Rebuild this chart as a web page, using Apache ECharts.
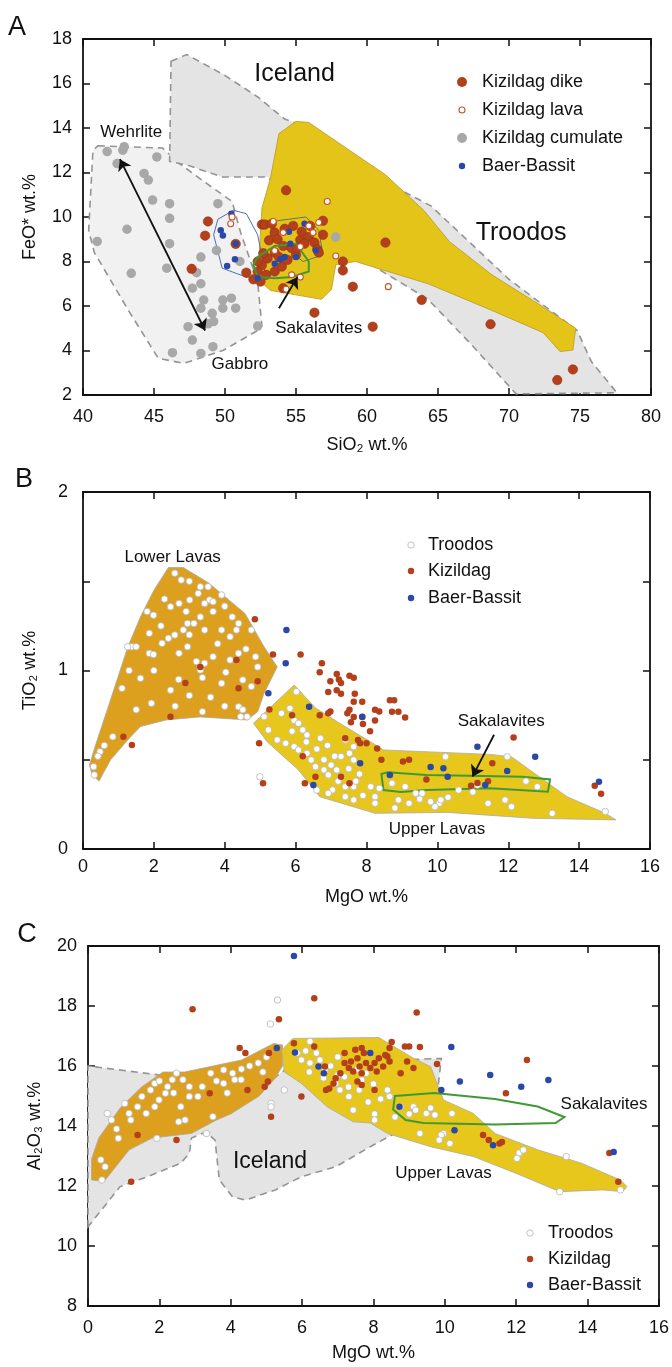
<!DOCTYPE html>
<html>
<head>
<meta charset="utf-8">
<style>
  html, body { margin: 0; padding: 0; background: #fff; }
  #main { width: 672px; height: 1367px; }
</style>
</head>
<body>
<div id="main"></div>
<script src="https://cdn.jsdelivr.net/npm/echarts@6/dist/echarts.min.js"></script>
<script type="text/javascript">
// ---------- panel A : FeO* vs SiO2 ----------
var aIceland = [[46.2,17.0],[47.3,17.3],[49.9,16.4],[52.3,15.4],[54.2,14.4],[56,14],[60,12],[64.5,10.5],[70,7.2],[74.8,4.9],[75.8,3.5],[77.6,2.1],[70.5,2.05],[67.3,4.3],[64.3,6.3],[60.7,7.7],[57,9.5],[53,11.8],[49.8,11.8],[47.5,12.3],[46.1,12.5]];
var aWehrlite = [[41.05,13.2],[45.6,13.1],[46.8,12.4],[48.5,11.6],[50.5,10.7],[51.1,9.3],[52.3,7.1],[52.6,5.1],[52.3,4.9],[49.85,4.0],[47.1,3.42],[45.3,3.65],[43.2,5.8],[40.8,8.4],[40.4,9.4],[40.7,13.0]];
var aTroodos = [[55.0,14.3],[53.8,13.75],[53.2,11.75],[52.6,10.4],[52.3,7.2],[53.2,6.7],[56.8,6.3],[57.5,6.75],[57.8,7.85],[59.2,8.0],[60.7,7.7],[64.3,7.0],[68.8,5.8],[72.4,4.8],[73.6,3.95],[74.5,4.02],[74.7,5.0],[71.8,6.2],[68.8,7.4],[65.8,8.9],[64.0,10.3],[61.3,11.9],[58.3,13.2],[55.9,14.25]];
var aBaerField = [[49.5,9.9],[50.6,10.3],[51.5,10.15],[52.3,9.2],[52.9,7.25],[51.5,7.3],[49.8,7.7],[49.2,9.2]];
var aKizField = [[53.3,9.8],[55.7,10.0],[56.6,9.4],[56.9,8.3],[55.5,8.0],[53.2,9.1]];
var aSakalavites = [[52.0,7.85],[52.3,8.2],[53.5,8.7],[55.0,8.8],[55.9,8.0],[55.9,7.55],[54.7,7.3],[53.5,7.25],[52.3,7.3]];
var aDike = [[54.3,11.2],[48.8,9.8],[56.9,9.83],[48.6,9.16],[50.75,8.79],[47.65,7.67],[56.9,9.2],[58.3,8.0],[58.3,7.6],[59.0,6.87],[61.3,8.85],[56.3,5.7],[60.4,5.07],[63.85,6.27],[68.7,5.18],[73.4,2.67],[74.5,3.15],
  [52.6,9.66],[52.8,9.66],[53.5,9.3],[53.1,8.95],[53.7,9.0],[54.1,8.7],[53.5,8.4],[53.0,8.14],[52.6,7.84],[52.3,7.55],[52.9,7.4],[53.5,7.55],[54.0,7.77],[54.4,8.07],[55.0,8.3],[55.3,8.97],[55.4,9.34],[55.9,9.1],[56.3,8.85],[56.5,8.55],[56.6,8.4],[55.6,8.8],[54.7,8.6],[52.0,7.2],[51.5,7.5],[54.1,6.8],[54.2,9.47],[52.3,8.0],[52.7,8.37],[55.1,8.6],[53.3,9.7],[54.8,9.6],[56.0,9.6],[53.8,8.2],[52.5,7.1]];
var aLava = [[57.2,10.7],[50.5,10.0],[50.4,9.7],[53.4,9.8],[54.1,9.3],[55.9,9.6],[56.2,9.3],[57.8,8.25],[55.3,7.3],[54.7,7.4],[54.3,6.75],[61.5,6.87],[53.5,8.48],[55.3,8.66],[56.6,9.75]];
var aCumulate = [[41.7,12.94],[42.8,13.0],[42.9,13.16],[42.4,12.4],[45.2,12.7],[44.3,11.96],[44.6,11.66],[44.9,10.76],[46.1,10.6],[49.5,10.6],[46.1,9.94],[43.1,9.45],[41.0,8.9],[46.1,8.8],[48.3,8.2],[49.4,8.5],[51.05,8.0],[43.4,7.47],[45.9,7.7],[48.3,7.0],[47.7,6.8],[48.5,6.27],[48.3,5.9],[49.1,5.67],[49.85,5.9],[49.85,6.27],[50.45,6.35],[50.75,5.9],[47.4,5.07],[47.7,4.47],[49.2,5.3],[48.3,3.87],[49.15,4.17],[46.3,3.9],[52.3,5.1],[57.8,9.1],[48.0,7.5],[48.8,5.2]];
var aBaer = [[50.45,10.15],[49.7,9.4],[49.85,9.17],[50.75,8.8],[50.7,8.1],[50.15,7.8],[52.3,7.25],[53.5,7.9],[54.2,8.2],[54.5,9.34],[55.6,9.7],[56.4,8.5],[53.9,8.1],[55.0,8.2],[54.6,8.8]];
var aArrows = [[[42.6,12.6],[48.6,4.9]]];
var aSakArrow = [[[53.8,5.9],[55.1,7.3]]];
var aNotes = [[54.9,16.4,'Iceland',25],[70.85,9.28,'Troodos',25],[43.4,13.82,'Wehrlite',17],[51.05,3.39,'Gabbro',17],[56.6,5.0,'Sakalavites',17]];

// ---------- panel B : TiO2 vs MgO ----------
var bLower = [[0.25,0.42],[0.45,0.38],[0.78,0.5],[1.26,0.61],[1.62,0.686],[2.35,0.723],[3.31,0.74],[4.63,0.723],[4.93,0.769],[5.11,0.872],[5.48,1.02],[5.11,1.133],[4.57,1.32],[3.55,1.49],[2.83,1.577],[2.41,1.577],[2.0,1.45],[1.62,1.30],[1.26,1.13],[0.8,0.85],[0.35,0.58],[0.18,0.47]];
var bUpper = [[5.96,0.919],[4.81,0.704],[5.2,0.6],[6.08,0.443],[6.68,0.293],[8.24,0.2],[10.29,0.205],[12.7,0.172],[15.04,0.163],[14.74,0.2],[13.66,0.293],[12.09,0.517],[11.49,0.53],[8.48,0.555],[8.12,0.6],[7.28,0.7],[6.56,0.79]];
var bSakalavites = [[8.42,0.42],[8.6,0.43],[9.69,0.415],[10.89,0.41],[12.4,0.405],[13.18,0.39],[13.12,0.321],[11.49,0.34],[9.69,0.33],[8.97,0.32],[8.48,0.33]];
var bTroodos = [[2.59,1.545],[2.77,1.507],[3.31,1.469],[3.53,1.469],[3.25,1.432],[3.91,1.423],[3.57,1.395],[3.67,1.385],[3.43,1.376],[1.81,1.33],[1.99,1.31],[2.47,1.357],[2.71,1.376],[3.01,1.395],[2.91,1.33],[3.31,1.30],[3.67,1.33],[4.21,1.30],[4.39,1.264],[1.87,1.208],[2.41,1.18],[2.59,1.199],[2.83,1.227],[2.95,1.264],[3.13,1.264],[3.43,1.227],[3.91,1.227],[4.15,1.189],[4.33,1.227],[4.75,1.227],[1.38,1.133],
  [1.26,1.133],[1.5,1.133],[1.87,1.096],[1.99,1.09],[1.62,0.956],[2.47,0.89],[2.23,1.152],[2.71,1.096],[2.95,1.133],[3.31,1.003],[3.43,1.04],[3.67,1.077],[3.37,0.96],[3.91,0.928],[4.03,0.99],[4.15,1.059],[4.39,1.096],[4.87,1.077],[4.93,1.02],[4.75,0.91],[4.51,0.947],[3.37,0.769],[1.93,0.816],[0.84,0.629],[0.48,0.545],[0.42,0.52],[0.30,0.461],[0.32,0.415],[4.39,0.797],[4.51,0.78],[4.63,0.741],[4.45,0.741],[4.99,0.405],
  [0.6,0.58],[1.1,0.9],[1.3,1.0],[2.2,1.25],[2.0,1.0],[2.7,0.95],[3.0,0.86],[3.6,0.85],[4.0,0.8],[2.6,0.8],[1.5,0.78],[3.8,1.15],[4.6,1.12],[3.0,1.2],[2.3,1.4],[3.0,1.5],[4.0,1.36],[3.2,1.05],
  [5.11,0.741],[5.23,0.667],[5.84,0.788],[6.02,0.881],[5.6,0.76],[5.96,0.72],[6.08,0.704],[6.2,0.667],[6.32,0.639],[5.48,0.611],[5.72,0.592],[5.96,0.573],[6.08,0.555],[6.32,0.536],[6.44,0.499],[6.56,0.461],[6.8,0.443],[6.92,0.415],[7.16,0.443],[6.8,0.5],[7.28,0.518],[7.4,0.611],[7.64,0.573],[7.52,0.536],[7.64,0.499],[7.28,0.405],[7.04,0.331],[6.92,0.312],[7.4,0.293],[7.64,0.275],[7.64,0.349],[7.4,0.349],[8.12,0.349],[8.24,0.293],[8.36,0.34],[8.24,0.256],[8.9,0.275],[9.2,0.256],[9.39,0.312],[9.57,0.312],[9.81,0.265],[10.05,0.256],[10.1,0.275],[9.93,0.237],[10.23,0.517],[11.97,0.517],[11.43,0.256],[11.91,0.275],[12.09,0.237],[13.24,0.2],[14.74,0.21],[9.09,0.349],[8.72,0.368],[11.13,0.358],[12.82,0.349],
  [6.6,0.56],[6.9,0.58],[7.1,0.52],[7.0,0.47],[7.5,0.45],[7.8,0.42],[7.7,0.38],[7.9,0.3],[6.6,0.33],[6.3,0.6],[5.9,0.66],[6.7,0.62],[7.2,0.38],[8.8,0.23],[9.5,0.28],[10.3,0.29],[10.6,0.33],[11.0,0.32],[12.5,0.38]];
var bKizildag = [[4.85,1.287],[5.36,1.09],[6.14,1.09],[6.74,1.04],[6.68,0.99],[7.16,0.98],[7.22,0.95],[7.52,0.97],[7.64,0.96],[6.98,0.94],[7.28,0.93],[6.92,0.88],[7.16,0.89],[7.28,0.87],[7.67,0.87],[7.64,0.825],[7.88,0.825],[7.52,0.78],[7.46,0.76],[7.64,0.74],[7.88,0.74],[8.24,0.78],[8.36,0.77],[8.24,0.72],[8.66,0.834],[8.78,0.834],[8.72,0.769],[8.9,0.769],[9.09,0.737],[6.92,0.76],[6.98,0.77],[7.4,0.62],[7.76,0.61],[7.82,0.592],[8.0,0.592],[8.3,0.563],[8.42,0.5],[9.03,0.49],[9.2,0.5],[9.69,0.39],[10.95,0.355],[11.13,0.37],[11.43,0.38],[11.55,0.48],[12.15,0.625],[14.44,0.355],[14.62,0.31],[6.2,0.52],[6.56,0.405],[6.26,0.368],[7.28,0.405],[7.52,0.368],[4.97,0.592],[5.08,0.368],[5.26,0.782],[4.33,1.059],[4.39,0.9],[4.93,0.94],[3.31,1.02],[2.89,0.93],[1.14,0.629],[1.38,0.582],[2.47,0.741],[5.9,0.75],[6.68,0.75],[7.56,0.71],[8.1,0.66],[7.9,0.7]];
var bBaer = [[5.74,1.227],[5.72,1.04],[5.23,0.872],[6.38,0.797],[7.88,0.741],[7.82,0.48],[8.66,0.415],[9.81,0.46],[10.17,0.452],[10.29,0.405],[11.13,0.573],[11.35,0.358],[11.97,0.437],[12.76,0.517],[14.56,0.377],[6.5,0.358]];
var bSakArrow = [[[11.6,0.64],[10.99,0.405]]];
var bNotes = [[2.53,1.636,'Lower Lavas',17],[9.99,0.112,'Upper Lavas',17],[11.8,0.714,'Sakalavites',17]];

// ---------- panel C : Al2O3 vs MgO ----------
var cIceland = [[0,10.64],[0,16.0],[2.0,15.7],[3.0,15.2],[4.0,14.7],[5.0,15.4],[5.6,15.95],[6.5,15.9],[8,16.0],[8.6,16.2],[9.9,16.25],[9.8,15.2],[9.3,14.6],[8.9,14.1],[8.76,13.86],[7.91,13.31],[6.94,12.64],[5.98,12.31],[5.25,11.87],[4.41,11.53],[4.05,11.64],[3.68,12.2],[3.56,13.53],[3.3,13.8],[2.9,13.6],[2.84,13.09],[2.6,12.76],[1.75,12.35],[0.9,11.98]];
var cLower = [[0.1,12.2],[0.1,12.9],[0.3,13.6],[0.9,14.6],[1.5,15.3],[2.1,15.8],[2.7,15.8],[3.5,16.0],[4.3,16.2],[5.2,16.75],[5.45,16.7],[5.45,16.0],[5.25,15.6],[4.8,15.0],[4.0,14.4],[3.6,14.2],[2.9,13.75],[1.8,13.6],[1.15,13.2],[0.45,12.15]];
var cUpper = [[5.43,16.53],[5.74,16.92],[8.15,16.95],[9.12,16.26],[9.6,15.98],[9.96,14.87],[10.8,14.42],[11.41,13.75],[12.62,13.2],[13.83,12.76],[14.92,12.2],[15.1,11.98],[14.98,11.81],[14.43,11.87],[13.22,11.81],[12.0,12.42],[10.8,12.98],[9.6,13.31],[8.39,13.75],[7.91,14.1],[7.43,14.14],[6.7,14.64],[5.98,15.42],[5.5,15.8]];
var cSakalavites = [[8.6,15.0],[9.7,15.1],[11.4,14.9],[12.6,14.65],[13.35,14.3],[13.1,14.1],[11.4,14.05],[9.4,14.1],[8.9,14.2],[8.55,14.55]];
var cTroodos = [[5.31,18.2],[5.11,17.4],[6.22,16.82],[6.4,16.43],[5.86,16.43],[5.98,16.2],[6.22,16.1],[6.64,15.87],[7.19,15.64],[6.94,15.42],[7.06,15.2],[7.31,14.98],[7.43,14.53],[7.85,14.8],[8.03,14.4],[8.39,15.2],[8.45,14.98],[8.76,14.64],[9.12,14.64],[9.18,14.53],[9.48,14.42],[9.72,14.37],[10.2,14.42],[7.55,15.9],[7.79,15.76],[7.67,15.53],[5.5,15.2],[5.13,14.75],[5.13,14.64],
  [4.53,16.0],[4.29,15.54],[4.77,16.1],[4.05,15.76],[4.11,15.54],[3.8,15.42],[3.44,15.76],[3.8,15.87],[3.2,15.31],[3.08,14.98],[2.84,15.31],[2.66,15.54],[2.48,15.76],[2.36,15.54],[2.23,15.31],[2.17,15.09],[1.99,14.87],[1.87,14.64],[1.63,14.42],[1.39,14.64],[1.15,14.42],[1.03,14.75],[1.75,15.2],[1.87,15.42],[1.51,14.98],[2.84,14.98],[2.6,14.64],[3.5,14.31],[2.72,14.2],[0.66,14.2],[0.54,14.42],
  [0.85,13.59],[0.36,12.87],[0.48,12.64],[0.39,12.2],[1.93,13.59],[2.54,14.14],[3.32,13.75],[13.22,11.81],[12.08,13.1],[12.2,13.2],[12.02,12.92],[13.4,12.98],[14.92,11.87],[9.96,13.75],[9.9,13.7],[10.14,13.42],[9.84,13.53],[9.3,13.75],[8.03,14.2],
  [6.1,16.5],[6.5,16.2],[6.8,16.0],[7.0,15.7],[7.3,15.3],[6.6,15.6],[7.0,16.3],[7.6,15.2],[8.0,15.4],[8.2,14.9],[8.6,14.3],[9.0,14.4],[9.6,14.6],[6.2,15.8],[4.3,15.9],[3.6,15.5],[2.0,15.5],[2.4,15.1],[3.9,15.1],[1.2,14.2],[0.8,13.9],[4.9,15.8],[5.0,16.3]];
var cKizildag = [[2.93,17.89],[5.35,17.56],[6.34,18.26],[9.21,17.78],[4.25,16.6],[4.41,16.43],[5.07,16.43],[5.04,15.48],[4.95,15.31],[4.47,15.2],[3.41,15.09],[5.77,16.76],[6.34,16.65],[5.98,14.98],[5.13,14.31],[6.67,15.2],[6.64,15.98],[7.19,16.43],[7.37,16.15],[7.49,16.54],[7.67,16.6],[7.73,16.43],[7.55,16.26],[7.19,16.1],[7.31,15.93],[7.07,15.76],[6.94,15.59],[6.88,15.42],[6.76,15.25],[7.43,15.82],[7.61,15.98],[7.79,16.1],[7.91,15.93],[8.03,16.1],[8.15,16.26],[8.33,16.37],[8.39,16.32],[8.45,16.15],[8.27,15.98],[8.09,15.82],[7.55,15.48],[7.67,15.76],[8.51,16.8],[8.45,16.6],[8.88,16.65],[9.0,16.65],[9.3,16.63],[8.76,15.76],[8.94,16.15],[9.12,15.93],[9.78,16.07],[8.03,15.2],[7.67,15.37],[11.71,15.09],[12.3,16.2],[1.21,12.14],[1.39,13.7],[2.48,13.53],[11.07,13.7],[11.23,13.53],[11.53,13.42],[11.6,13.47],[14.61,13.1],[14.86,12.14]];
var cBaer = [[5.77,19.67],[5.29,16.6],[5.8,16.45],[6.46,15.98],[6.61,15.76],[7.91,16.43],[10.18,16.63],[10.42,15.48],[11.27,15.7],[12.14,15.31],[12.9,15.53],[9.9,15.2],[8.73,14.64],[10.27,13.86],[11.35,13.36],[14.73,13.13]];
var cNotes = [[5.1,12.8,'Iceland',23],[9.96,12.43,'Upper Lavas',17],[14.46,14.73,'Sakalavites',17]];

// ---------- helpers ----------
var FONT = '"Liberation Sans", Arial, sans-serif';
var INK = '#111111';

function xPair(gi, min, max, step, name, margin, gap) {
  var base = {
    gridIndex: gi, type: 'value', min: min, max: max, interval: step,
    axisLine: { onZero: false, lineStyle: { color: INK, width: 1.8 } },
    axisTick: { inside: true, length: 7, lineStyle: { color: INK, width: 1.5 } },
    splitLine: { show: false }
  };
  var bottom = Object.assign({}, base, {
    position: 'bottom', name: name, nameLocation: 'middle', nameGap: gap,
    nameTextStyle: { fontSize: 18, fontFamily: FONT, color: INK },
    axisLabel: { fontSize: 18, fontFamily: FONT, color: INK, margin: margin }
  });
  var top = Object.assign({}, base, { position: 'top', axisLabel: { show: false } });
  return [bottom, top];
}
function yPair(gi, min, max, step, name, margin, gap, fmt) {
  var base = {
    gridIndex: gi, type: 'value', min: min, max: max, interval: step,
    axisLine: { onZero: false, lineStyle: { color: INK, width: 1.8 } },
    axisTick: { inside: true, length: 7, lineStyle: { color: INK, width: 1.5 } },
    splitLine: { show: false }
  };
  var left = Object.assign({}, base, {
    position: 'left', name: name, nameLocation: 'middle', nameGap: gap, nameRotate: 90,
    nameTextStyle: { fontSize: 18, fontFamily: FONT, color: INK },
    axisLabel: { fontSize: 18, fontFamily: FONT, color: INK, margin: margin, formatter: fmt }
  });
  var right = Object.assign({}, base, { position: 'right', axisLabel: { show: false } });
  return [left, right];
}

function polygon(pts, gi, style, z) {
  return {
    type: 'custom', xAxisIndex: gi * 2, yAxisIndex: gi * 2, silent: true, z: z,
    data: pts,
    renderItem: function (params, api) {
      if (params.dataIndex !== 0) return null;
      var p = pts.map(function (d) { return api.coord(d); });
      return { type: 'polygon', shape: { points: p }, style: style };
    }
  };
}
function dots(pts, gi, size, color, border, bw, z) {
  return {
    type: 'scatter', xAxisIndex: gi * 2, yAxisIndex: gi * 2, z: z,
    symbol: 'circle', symbolSize: size, data: pts, silent: true,
    itemStyle: { color: color, borderColor: border, borderWidth: bw, opacity: 1 }
  };
}
function arrows(list, gi, both) {
  return {
    type: 'lines', coordinateSystem: 'cartesian2d', xAxisIndex: gi * 2, yAxisIndex: gi * 2, z: 8,
    symbol: both ? ['arrow', 'arrow'] : ['none', 'arrow'], symbolSize: 11, silent: true,
    lineStyle: { color: INK, width: 1.8, opacity: 1 },
    data: list.map(function (c) { return { coords: c }; })
  };
}
function notes(list, gi) {
  return {
    type: 'scatter', xAxisIndex: gi * 2, yAxisIndex: gi * 2, z: 9, symbolSize: 0, silent: true,
    itemStyle: { opacity: 1 },
    data: list.map(function (n) {
      return { value: [n[0], n[1]], name: n[2], label: { fontSize: n[3] } };
    }),
    label: { show: true, position: 'inside', formatter: '{b}', color: INK, opacity: 1,
      fontFamily: FONT, textBorderWidth: 0 }
  };
}
function legendGfx(x, tx, ys, items) {
  var out = [];
  items.forEach(function (it, i) {
    out.push({ type: 'circle', shape: { cx: x, cy: ys[i], r: it.r },
      style: { fill: it.fill, stroke: it.stroke || null, lineWidth: it.bw || 0 } });
    out.push({ type: 'text', x: tx, y: ys[i],
      style: { text: it.label, font: '18px ' + FONT, fill: INK,
        textAlign: 'left', align: 'left', textVerticalAlign: 'middle', verticalAlign: 'middle' } });
  });
  return out;
}
function letter(t, x, y) {
  return { type: 'text', x: x, y: y,
    style: { text: t, font: '27px ' + FONT, fill: INK,
      textAlign: 'center', align: 'center', textVerticalAlign: 'middle', verticalAlign: 'middle' } };
}

var RED = '#B3401B', GRAY = '#A8A8A8', BLUE = '#2C48A6';
var dashed = { stroke: '#949494', lineWidth: 1.6, lineDash: [7, 5] };

var chart = echarts.init(document.getElementById('main'));
var xA = xPair(0, 40, 80, 5, 'SiO\u2082 wt.%', 13, 41);
var xB = xPair(1, 0, 16, 2, 'MgO wt.%', 9, 39);
var xC = xPair(2, 0, 16, 2, 'MgO wt.%', 13, 38);
var yA = yPair(0, 2, 18, 2, 'FeO* wt.%', 11, 44);
var yB = yPair(1, 0, 2, 0.5, 'TiO\u2082 wt.%', 15, 44, function (v) { return v % 1 === 0 ? String(v) : ''; });
var yC = yPair(2, 8, 20, 2, 'Al\u2082O\u2083 wt.%', 11, 44);

var option = {
  animation: false,
  backgroundColor: '#ffffff',
  textStyle: { fontFamily: FONT },
  grid: [
    { left: 83, top: 39, width: 568, height: 356 },
    { left: 83, top: 492, width: 567, height: 357 },
    { left: 88, top: 946, width: 572, height: 360 }
  ],
  xAxis: [xA[0], xA[1], xB[0], xB[1], xC[0], xC[1]],
  yAxis: [yA[0], yA[1], yB[0], yB[1], yC[0], yC[1]],
  series: [
    // A
    polygon(aWehrlite, 0, Object.assign({ fill: '#f1f1f1' }, dashed), 1),
    polygon(aIceland, 0, Object.assign({ fill: '#e4e4e4' }, dashed), 2),
    polygon(aTroodos, 0, { fill: '#E5C41A', stroke: '#b59a2a', lineWidth: 0.8 }, 3),
    polygon(aBaerField, 0, { fill: 'none', stroke: '#4f6db5', lineWidth: 1 }, 4),
    polygon(aKizField, 0, { fill: 'none', stroke: '#5d7a55', lineWidth: 1 }, 4),
    dots(aCumulate, 0, 9.5, GRAY, null, 0, 5),
    dots(aDike, 0, 9.5, RED, '#8f2c10', 0.5, 6),
    dots(aBaer, 0, 6.5, BLUE, null, 0, 7),
    dots(aLava, 0, 6, '#ffffff', '#c4522a', 1.1, 7),
    polygon(aSakalavites, 0, { fill: 'none', stroke: '#3f9a35', lineWidth: 2 }, 7),
    arrows(aArrows, 0, true),
    arrows(aSakArrow, 0, false),
    notes(aNotes, 0),
    // B
    polygon(bLower, 1, { fill: '#DDA01E', stroke: '#a9a9a9', lineWidth: 0.8 }, 2),
    polygon(bUpper, 1, { fill: '#E8C71C', stroke: '#a9a9a9', lineWidth: 0.8 }, 2),
    polygon(bSakalavites, 1, { fill: 'none', stroke: '#3f9a35', lineWidth: 2 }, 4),
    dots(bTroodos, 1, 6.5, '#ffffff', '#b5b5b5', 0.8, 5),
    dots(bKizildag, 1, 6.5, RED, null, 0, 6),
    dots(bBaer, 1, 6.5, BLUE, null, 0, 7),
    arrows(bSakArrow, 1, false),
    notes(bNotes, 1),
    // C
    polygon(cIceland, 2, Object.assign({ fill: '#e4e4e4' }, dashed), 1),
    polygon(cLower, 2, { fill: '#DDA01E', stroke: '#a9a9a9', lineWidth: 0.8 }, 2),
    polygon(cUpper, 2, { fill: '#E8C71C', stroke: '#a9a9a9', lineWidth: 0.8 }, 2),
    polygon(cSakalavites, 2, { fill: 'none', stroke: '#3f9a35', lineWidth: 2 }, 4),
    dots(cTroodos, 2, 6.5, '#ffffff', '#b5b5b5', 0.8, 5),
    dots(cKizildag, 2, 6.5, RED, null, 0, 6),
    dots(cBaer, 2, 6.5, BLUE, null, 0, 7),
    notes(cNotes, 2)
  ],
  graphic: [letter('A', 17, 28), letter('B', 24, 480), letter('C', 27, 935)]
    .concat(legendGfx(462, 482, [82, 110, 138, 166], [
      { r: 5, fill: RED, label: 'Kizildag dike' },
      { r: 3, fill: '#ffffff', stroke: '#c4522a', bw: 1.1, label: 'Kizildag lava' },
      { r: 5, fill: GRAY, label: 'Kizildag cumulate' },
      { r: 3.2, fill: BLUE, label: 'Baer-Bassit' }
    ]))
    .concat(legendGfx(411, 428, [545, 571, 598], [
      { r: 3.2, fill: '#ffffff', stroke: '#b5b5b5', bw: 0.8, label: 'Troodos' },
      { r: 3.2, fill: RED, label: 'Kizildag' },
      { r: 3.2, fill: BLUE, label: 'Baer-Bassit' }
    ]))
    .concat(legendGfx(530, 548, [1233, 1259, 1285], [
      { r: 3.2, fill: '#ffffff', stroke: '#b5b5b5', bw: 0.8, label: 'Troodos' },
      { r: 3.2, fill: RED, label: 'Kizildag' },
      { r: 3.2, fill: BLUE, label: 'Baer-Bassit' }
    ]))
};
chart.setOption(option);
</script>
</body>
</html>
